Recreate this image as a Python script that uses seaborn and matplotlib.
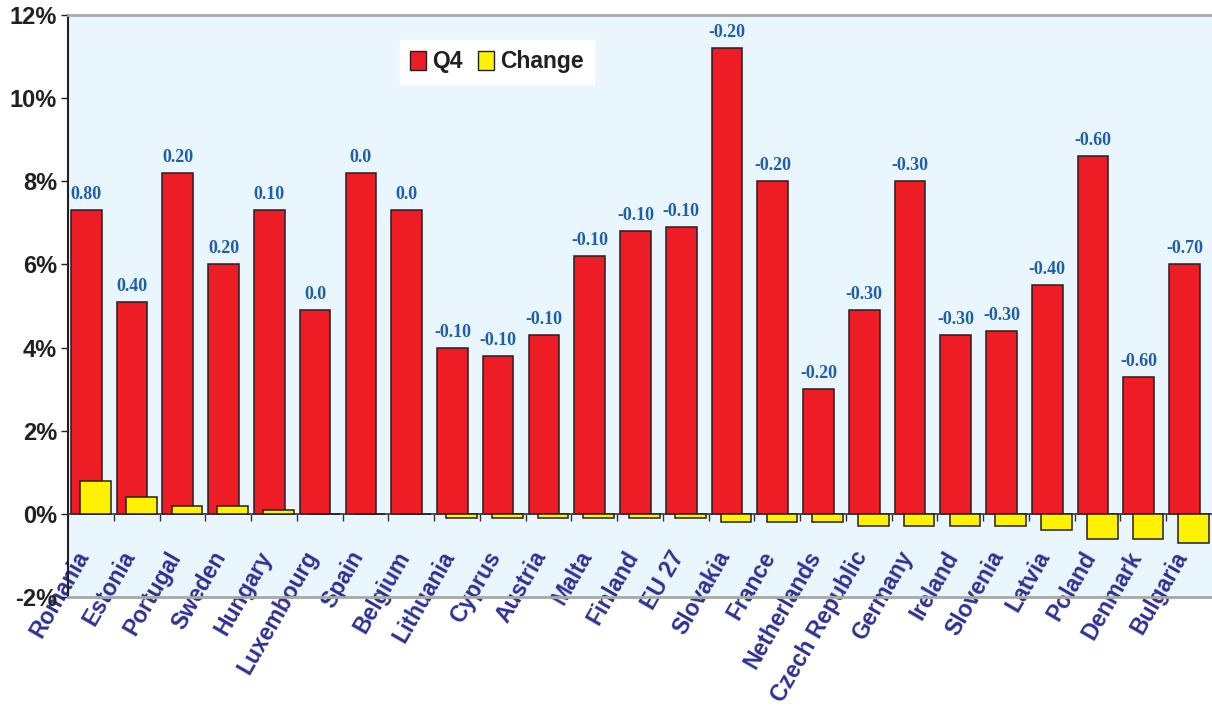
import numpy as np
import pandas as pd
import matplotlib
matplotlib.use("Agg")
import matplotlib.pyplot as plt
from matplotlib.patches import Patch
from matplotlib.ticker import FuncFormatter, FixedLocator
from matplotlib.transforms import ScaledTranslation
import seaborn as sns

countries = ["Romania", "Estonia", "Portugal", "Sweden", "Hungary", "Luxembourg",
             "Spain", "Belgium", "Lithuania", "Cyprus", "Austria", "Malta",
             "Finland", "EU 27", "Slovakia", "France", "Netherlands",
             "Czech Republic", "Germany", "Ireland", "Slovenia", "Latvia",
             "Poland", "Denmark", "Bulgaria"]
q4 = [7.3, 5.1, 8.2, 6.0, 7.3, 4.9, 8.2, 7.3, 4.0, 3.8, 4.3, 6.2, 6.8, 6.9,
      11.2, 8.0, 3.0, 4.9, 8.0, 4.3, 4.4, 5.5, 8.6, 3.3, 6.0]
change = [0.80, 0.40, 0.20, 0.20, 0.10, 0.0, 0.0, 0.0, -0.10, -0.10, -0.10,
          -0.10, -0.10, -0.10, -0.20, -0.20, -0.20, -0.30, -0.30, -0.30,
          -0.30, -0.40, -0.60, -0.60, -0.70]
y_ticks = [-2, 0, 2, 4, 6, 8, 10, 12]

RED = "#ee1c25"
YELLOW = "#fff200"
EDGE = "#231f20"
LABEL_BLUE = "#1f5fa8"
NAVY = "#2e3192"

sns.set_theme(style="white")
plt.rcParams["font.family"] = ["Liberation Sans", "DejaVu Sans"]

pos = np.arange(len(countries))
df = pd.DataFrame({"pos": pos, "country": countries, "q4": q4, "change": change})

fig = plt.figure(figsize=(12.12, 7.07), dpi=100)
ax = fig.add_axes([0.0561, 0.1556, 0.9439, 0.8232])
ax.set_facecolor("#eaf6fd")

shift = 0.1
sns.barplot(x=df["pos"] - shift, y=df["q4"], native_scale=True, width=0.67,
            color=RED, saturation=1, edgecolor=EDGE, linewidth=1.1, ax=ax, zorder=2)
sns.barplot(x=df["pos"] + shift, y=df["change"], native_scale=True, width=0.67,
            color=YELLOW, saturation=1, edgecolor=EDGE, linewidth=1.1, ax=ax, zorder=3)

# value labels above the Q4 bars show the change
labels = ["0.0" if c == 0 else f"{c:.2f}" for c in change]
ax.bar_label(ax.containers[0], labels=labels, padding=5, color=LABEL_BLUE,
             fontsize=13, fontweight="bold", family="Liberation Serif")

ax.set_xlim(-0.5, len(countries) - 0.5)
ax.set_ylim(-2, 12)
ax.set_yticks(y_ticks)
ax.yaxis.set_major_formatter(FuncFormatter(lambda v, p: f"{v:.0f}%"))
ax.tick_params(axis="y", labelsize=17, labelcolor="#231f20", length=5,
               width=1, color="#231f20", direction="out", left=True, pad=3)
for t in ax.get_yticklabels():
    t.set_fontweight("bold")

# category axis sits on the zero line
ax.spines["bottom"].set_position(("data", 0))
ax.spines["bottom"].set_color("#333333")
ax.spines["bottom"].set_linewidth(1.2)
ax.set_xticks(pos)
ax.set_xticklabels(countries, rotation=60, ha="right", va="center",
                   rotation_mode="anchor", fontsize=16.5, fontweight="bold",
                   color=NAVY)
ax.tick_params(axis="x", which="major", length=0, pad=28)
# nudge the slanted category names slightly to the left
nudge = ScaledTranslation(-5 / 72, 0, fig.dpi_scale_trans)
for t in ax.get_xticklabels():
    t.set_transform(t.get_transform() + nudge)
ax.xaxis.set_minor_locator(FixedLocator(pos[1:] - 0.5))
ax.tick_params(axis="x", which="minor", length=5, width=1, color="#333333",
               direction="out", bottom=True)

ax.spines["left"].set_color("#231f20")
ax.spines["left"].set_linewidth(1.5)
ax.spines["top"].set_color("#a8a8a8")
ax.spines["top"].set_linewidth(2)
ax.spines["right"].set_visible(False)
ax.axhline(-2, color="#a8a8a8", linewidth=2, clip_on=False, zorder=5)
ax.set_xlabel("")
ax.set_ylabel("")
ax.grid(False)

handles = [Patch(facecolor=RED, edgecolor=EDGE, linewidth=1, label="Q4"),
           Patch(facecolor=YELLOW, edgecolor=EDGE, linewidth=1, label="Change")]
leg = ax.legend(handles=handles, loc="upper left", bbox_to_anchor=(0.29, 0.957),
                ncol=2, frameon=True, facecolor="white", edgecolor="white",
                fancybox=False, framealpha=1, borderaxespad=0, handlelength=0.7,
                handleheight=0.9, handletextpad=0.25, columnspacing=0.7,
                borderpad=0.45, prop={"weight": "bold", "size": 16.5})
for t in leg.get_texts():
    t.set_color("#231f20")

fig.savefig("out.png", dpi=100)
